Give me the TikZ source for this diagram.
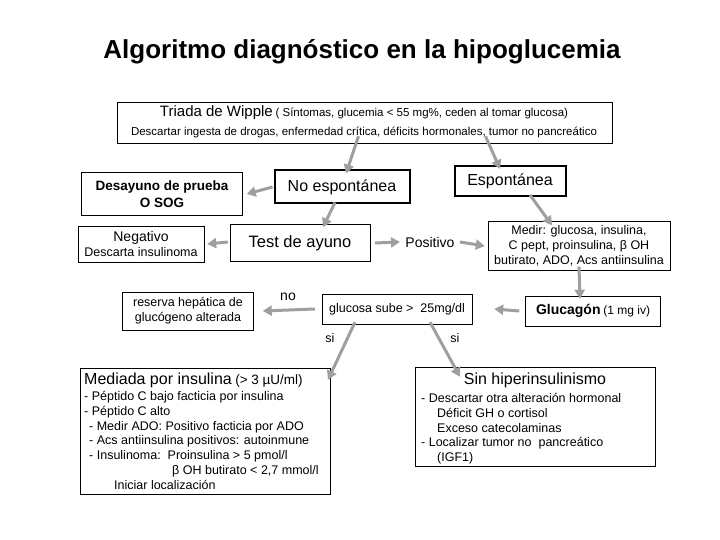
\documentclass[tikz,border=0pt]{standalone}
\usepackage{fontspec}
\setmainfont{Liberation Sans}
\usetikzlibrary{arrows.meta,positioning}
\tikzset{
  box/.style={draw, thin, align=center, inner sep=2pt},
  bold box/.style={draw, line width=2pt, align=center, inner sep=3pt, font=\fontsize{16}{18}\selectfont},
  flow/.style={draw=gray!75, line width=3pt, -{Triangle[length=9pt,width=10pt]}},
  tag/.style={font=\fontsize{12.5}{14}\selectfont},
}
\begin{document}
\begin{tikzpicture}[x=1pt,y=-1pt]
  \useasboundingbox (0,0) rectangle (720,540);
  \node[font=\bfseries\fontsize{26}{30}\selectfont] (title) at (362,52) {Algoritmo diagnóstico en la hipoglucemia};

  \node[draw, thin, minimum width=495, minimum height=41, inner sep=0pt] (wipple) at (364.5,122.5) {};
  \node[inner sep=0pt] (triada) at (364,113) {{\fontsize{15}{17}\selectfont Triada de Wipple} {\fontsize{11.5}{14}\selectfont ( Síntomas, glucemia < 55 mg\%, ceden al tomar glucosa)}};
  \node[inner sep=0pt, font=\fontsize{11.5}{14}\selectfont] (descartar) at (364,132) {Descartar ingesta de drogas, enfermedad crítica, déficits hormonales, tumor no pancreático};

  \node[box, font=\bfseries\fontsize{13.5}{17}\selectfont, minimum width=161, minimum height=43] (desayuno) at (162,194) {Desayuno de prueba\\O SOG};
  \node[bold box, minimum width=135, minimum height=33] (noesp) at (342,187) {No espontánea};
  \node[bold box, minimum width=111, minimum height=30] (esp) at (510,181) {Espontánea};

  \node[box, font=\fontsize{12.5}{15}\selectfont, minimum width=126, minimum height=36] (negativo) at (141,244) {{\fontsize{14}{16}\selectfont Negativo}\\Descarta insulinoma};
  \node[box, font=\fontsize{16.5}{18}\selectfont, minimum width=140, minimum height=37] (ayuno) at (300,243) {Test de ayuno};
  \node[tag, font=\fontsize{14}{16}\selectfont] (positivo) at (430,242) {Positivo};
  \node[box, font=\fontsize{12.5}{15}\selectfont, minimum width=182, minimum height=49] (medir) at (579,246) {Medir: glucosa, insulina,\\C pept, proinsulina, β OH\\butirato, ADO, Acs antiinsulina};

  \node[box, font=\fontsize{12.5}{15}\selectfont, minimum width=131, minimum height=38] (reserva) at (188,311) {reserva hepática de\\glucógeno alterada};
  \node[tag, font=\fontsize{14}{16}\selectfont] (no) at (288,297) {no};
  \node[box, font=\fontsize{12.5}{15}\selectfont, minimum width=150, minimum height=30] (glucosa) at (397,309) {glucosa sube >\ \ 25mg/dl};
  \node[box, minimum width=135, minimum height=30] (glucagon) at (593,311) {{\bfseries\fontsize{14}{16}\selectfont Glucagón} {\fontsize{12}{14}\selectfont(1 mg iv)}};
  \node[tag] (si1) at (330,338) {si};
  \node[tag] (si2) at (455,338) {si};

  \node[draw, thin, minimum width=250, minimum height=126, inner sep=0pt] (mediadabox) at (205,431) {};
  \node[anchor=north west, align=left, inner sep=0pt, font=\fontsize{12.5}{14.8}\selectfont] (mediada) at (84,373)
    {{\fontsize{16}{18}\selectfont Mediada por insulina} {\fontsize{13.5}{15}\selectfont (> 3 µU/ml)}\\[1pt]
     - Péptido C bajo facticia por insulina\\
     - Péptido C alto\\
     \hspace*{5pt}- Medir ADO: Positivo facticia por ADO\\
     \hspace*{5pt}- Acs antiinsulina positivos: autoinmune\\
     \hspace*{5pt}- Insulinoma:\ \ Proinsulina > 5 pmol/l\\
     \hspace*{88pt}β OH butirato < 2,7 mmol/l\\
     \hspace*{30pt}Iniciar localización};

  \node[draw, thin, minimum width=240, minimum height=99, inner sep=0pt] (sinbox) at (535,416.5) {};
  \node[font=\fontsize{16}{18}\selectfont] (sin) at (535,380) {Sin hiperinsulinismo};
  \node[anchor=north west, align=left, inner sep=0pt, font=\fontsize{12.5}{14.8}\selectfont] (sinlist) at (421,393)
    {- Descartar otra alteración hormonal\\
     \hspace*{16pt}Déficit GH o cortisol\\
     \hspace*{16pt}Exceso catecolaminas\\
     - Localizar tumor no\ \ pancreático\\
     \hspace*{16pt}(IGF1)};

  \draw[flow] ([xshift=-6pt,yshift=7pt]wipple.south) -- ([xshift=4pt,yshift=-4pt]noesp.north);
  \draw[flow] ([xshift=121pt,yshift=7pt]wipple.south) -- ([xshift=-10pt,yshift=-4pt]esp.north);
  \draw[flow] ([xshift=-1pt]noesp.west) -- ([xshift=4pt]desayuno.east);
  \draw[flow] ([xshift=-7pt,yshift=2pt]noesp.south) -- ([xshift=23pt,yshift=-3pt]ayuno.north);
  \draw[flow] ([xshift=20pt,yshift=2pt]esp.south) -- ([xshift=-27pt,yshift=-4pt]medir.north);
  \draw[flow] ([xshift=5pt]ayuno.east) -- ([xshift=-2pt]positivo.west);
  \draw[flow] ([xshift=2pt]positivo.east) -- ([xshift=-3pt,yshift=-4pt]medir.west |- positivo.east);
  \draw[flow] ([xshift=-2pt,yshift=1pt]ayuno.west) -- ([xshift=3pt]negativo.east);
  \draw[flow] ([yshift=4pt]medir.south) -- ([xshift=-13pt,yshift=-3pt]glucagon.north);
  \draw[flow] ([xshift=-6pt]glucagon.west) -- ([xshift=22pt]glucosa.east);
  \draw[flow] ([xshift=-7pt]glucosa.west) -- ([xshift=9pt]reserva.east);
  \draw[flow] ([xshift=-42pt,yshift=2pt]glucosa.south) -- ([xshift=123pt,yshift=-12pt]mediadabox.north);
  \draw[flow] ([xshift=33pt,yshift=2pt]glucosa.south) -- ([xshift=-75pt,yshift=-10pt]sinbox.north);
\end{tikzpicture}
\end{document}
